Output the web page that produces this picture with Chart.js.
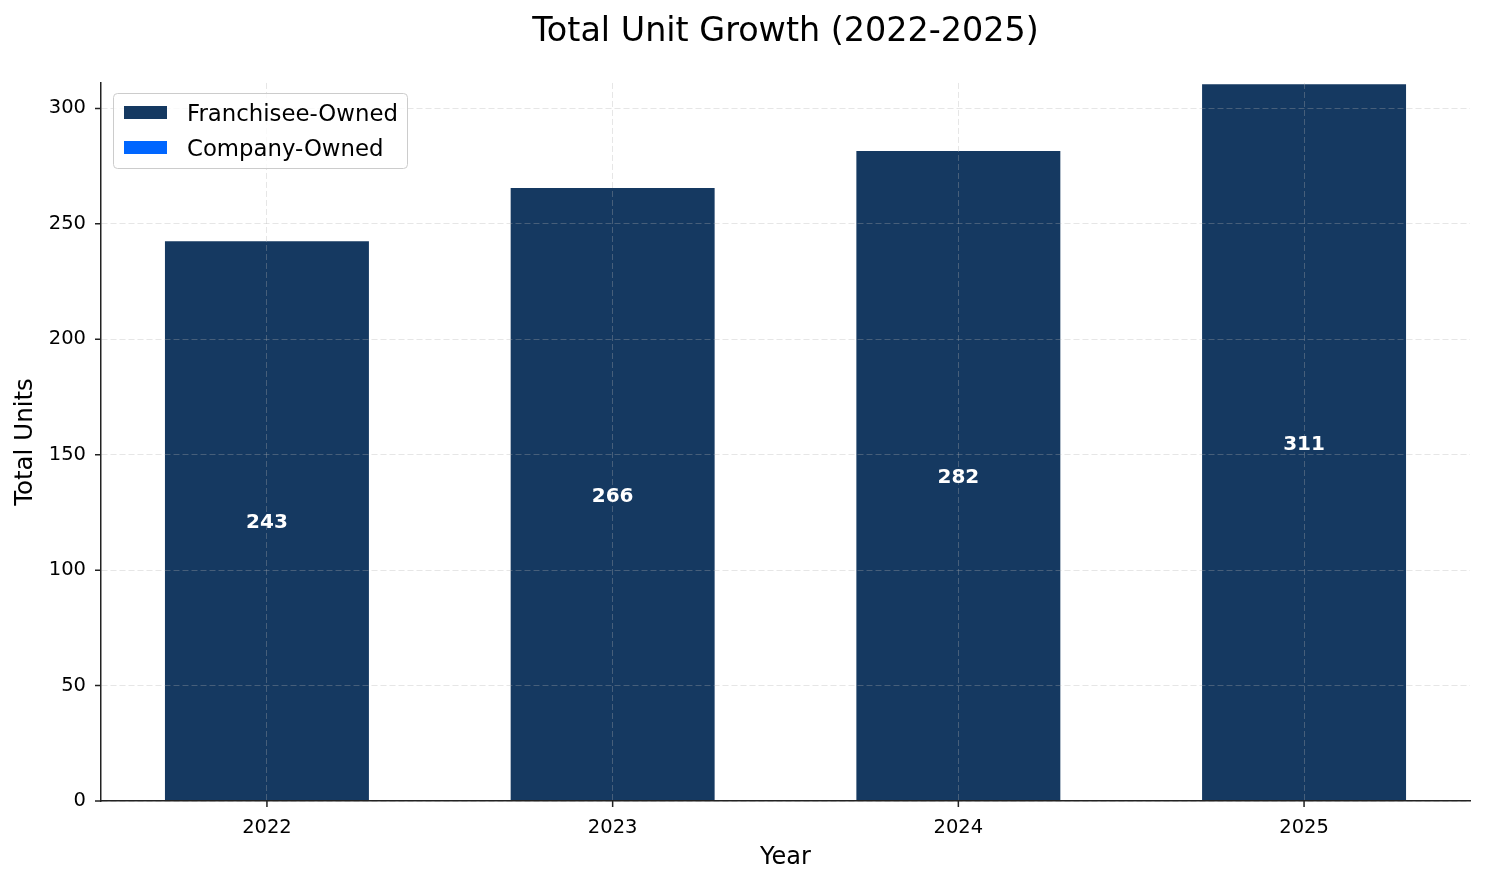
<!DOCTYPE html>
<html><head><meta charset="utf-8">
<script src="https://cdn.jsdelivr.net/npm/chart.js@4/dist/chart.umd.min.js"></script>
<style>html,body{margin:0;padding:0;background:#fff;} #wrap{width:1485px;height:884px;position:relative;}</style>
</head><body><div id="wrap"><canvas id="c"></canvas></div>
<script>
const years = ['2022', '2023', '2024', '2025'];
const franchiseeOwned = [242.5, 265.5, 281.5, 310.5];
const companyOwned = [0, 0, 0, 0];
const yTicks = [0, 50, 100, 150, 200, 250, 300];
const yMax = 311;

const FONT = '"DejaVu Sans", Verdana, sans-serif';
const NAVY = '#153961';
const BRIGHT = '#0066ff';
const AXIS = '#222222';

const overlay = {
  id: 'overlay',
  afterDraw(chart) {
    const {ctx, chartArea: a, scales: {x, y}} = chart;
    ctx.save();
    // tick marks
    ctx.strokeStyle = AXIS; ctx.lineWidth = 1.5; ctx.setLineDash([]);
    ctx.beginPath();
    y.ticks.forEach(t => { const p = y.getPixelForValue(t.value); ctx.moveTo(a.left - 6, p); ctx.lineTo(a.left, p); });
    x.ticks.forEach(t => { const p = x.getPixelForValue(t.value); ctx.moveTo(p, a.bottom); ctx.lineTo(p, a.bottom + 6); });
    ctx.stroke();
    // value labels
    ctx.fillStyle = '#ffffff';
    ctx.font = 'bold 20px ' + FONT;
    ctx.textAlign = 'center'; ctx.textBaseline = 'alphabetic';
    years.forEach((yr, i) => {
      const total = franchiseeOwned[i] + companyOwned[i];
      ctx.fillText(String(Math.round(total)), x.getPixelForValue(i), y.getPixelForValue(total / 2) + 7.0);
    });
    // legend
    const lx = 113, ly = 93, lw = 294, lh = 75;
    ctx.beginPath();
    ctx.roundRect(lx + 0.5, ly + 0.5, lw, lh, 4);
    ctx.fillStyle = 'rgba(255,255,255,0.8)'; ctx.fill();
    ctx.strokeStyle = '#cccccc'; ctx.lineWidth = 1; ctx.stroke();
    ctx.font = '22.8px ' + FONT; ctx.textAlign = 'left'; ctx.textBaseline = 'alphabetic';
    chart.data.datasets.forEach((ds, i) => {
      const rowY = 106 + i * 35;
      ctx.fillStyle = ds.backgroundColor;
      ctx.fillRect(124, rowY, 43, 13);
      ctx.fillStyle = '#000000';
      ctx.fillText(ds.label, 187, rowY + 15);
    });
    ctx.restore();
  }
};

const gridColor = 'rgba(176,176,176,0.32)';

new Chart(document.getElementById('c'), {
  type: 'bar',
  data: {
    labels: years,
    datasets: [
      { label: 'Franchisee-Owned', data: franchiseeOwned.map((v, i) => ({x: i, y: v})), backgroundColor: NAVY, borderWidth: 0, barPercentage: 0.59, categoryPercentage: 1.0 },
      { label: 'Company-Owned', data: companyOwned.map((v, i) => ({x: i, y: v})), backgroundColor: BRIGHT, borderWidth: 0, barPercentage: 0.59, categoryPercentage: 1.0 }
    ]
  },
  options: {
    responsive: true,
    maintainAspectRatio: false,
    animation: false,
    devicePixelRatio: 1,
    layout: { padding: { left: 0, right: 15, top: 0, bottom: 0 } },
    plugins: {
      legend: { display: false },
      tooltip: { enabled: false },
      title: {
        display: true, text: 'Total Unit Growth (2022-2025)', fullSize: false,
        color: '#000', font: { family: FONT, size: 33.4, weight: 'normal' },
        padding: { top: 12, bottom: 30.9 }
      }
    },
    scales: {
      x: {
        type: 'linear', stacked: true, min: -0.48, max: 3.48, bounds: 'data', offset: false,
        afterBuildTicks: s => { s.ticks = years.map((_, i) => ({value: i})); },
        afterFit: s => { s.height = 83; },
        ticks: { callback: v => years[v], color: '#000', font: { family: FONT, size: 19.5 }, padding: 15, maxRotation: 0, autoSkip: false, z: 1 },
        grid: { display: true, drawTicks: false, color: gridColor, lineWidth: 1, offset: false, z: 1 },
        border: { display: true, color: AXIS, width: 1.5, dash: [6, 3], z: 2 },
        title: { display: true, text: 'Year', color: '#000', font: { family: FONT, size: 24 }, padding: { top: 0, bottom: 12 } }
      },
      y: {
        type: 'linear', stacked: true, min: 0, max: yMax, bounds: 'data',
        afterBuildTicks: s => { s.ticks = yTicks.map(v => ({value: v})); },
        afterFit: s => { s.width = 101; },
        ticks: { color: '#000', font: { family: FONT, size: 19.5 }, padding: 15, z: 1 },
        grid: { display: true, drawTicks: false, color: gridColor, lineWidth: 1, z: 1 },
        border: { display: true, color: AXIS, width: 1.5, dash: [6, 3], z: 2 },
        title: { display: true, text: 'Total Units', color: '#000', font: { family: FONT, size: 24.5 }, padding: { top: 11, bottom: 0 } }
      }
    }
  },
  plugins: [overlay]
});
</script>
</body></html>
